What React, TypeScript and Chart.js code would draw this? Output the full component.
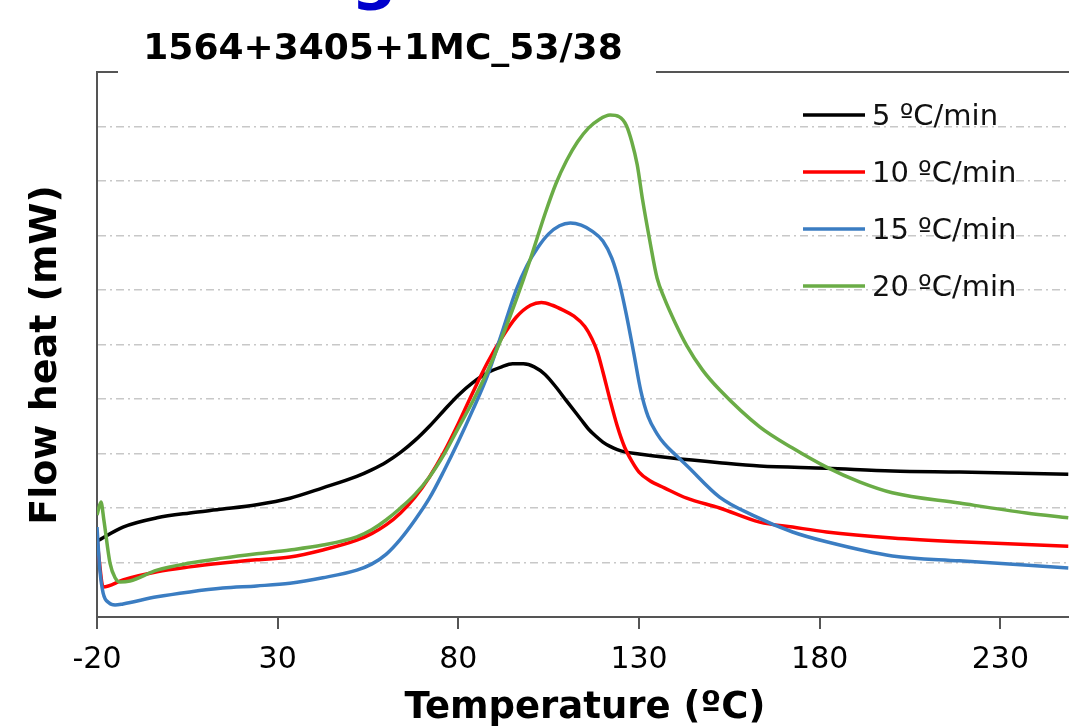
import React, { useEffect, useRef } from 'react';
import { Chart, registerables } from 'chart.js';

Chart.register(...registerables);

const chartTitle = '1564+3405+1MC_53/38';
const xAxisTitle = 'Temperature (ºC)';
const yAxisTitle = 'Flow heat (mW)';
const seriesLabels = ['5 ºC/min', '10 ºC/min', '15 ºC/min', '20 ºC/min'];
const seriesColors = ['#000000', '#ff0000', '#3b7dc2', '#6aac46'];
const xTickValues = [-20, 30, 80, 130, 180, 230];

// 5 ºC/min
const t5 = [-20, -12.8, -3.4, 5.7, 14.8, 24.2, 33.4, 42.5, 51.9, 56, 60, 64, 68, 72, 76, 80, 84, 88, 92, 95, 98, 101, 104, 107, 110, 114, 116, 118, 120, 122, 124, 126, 130, 138.5, 152.3, 163.4, 181.9, 200.1, 218.7, 248.8];
const v5 = [1.39, 1.65, 1.82, 1.91, 1.98, 2.06, 2.18, 2.37, 2.58, 2.70, 2.84, 3.02, 3.24, 3.50, 3.79, 4.07, 4.30, 4.48, 4.59, 4.645, 4.645, 4.59, 4.45, 4.22, 3.96, 3.62, 3.45, 3.32, 3.21, 3.13, 3.07, 3.03, 2.99, 2.92, 2.83, 2.77, 2.73, 2.68, 2.66, 2.62];

// 10 ºC/min
const t10 = [-20, -19.4, -18.3, -12.8, -3.4, 5.7, 14.8, 24.2, 33.4, 42.5, 51.9, 56, 60, 64, 68, 72, 76, 80, 84, 88, 92, 96, 100, 103, 106, 109, 112, 115, 117, 118.5, 120, 122, 124, 126, 128, 130, 133, 137, 143.2, 152.3, 163.4, 172.5, 181.9, 200.1, 218.7, 248.8];
const v10 = [1.47, 1.05, 0.55, 0.68, 0.83, 0.92, 0.99, 1.05, 1.10, 1.23, 1.41, 1.53, 1.69, 1.91, 2.20, 2.57, 3.02, 3.55, 4.12, 4.66, 5.12, 5.50, 5.72, 5.77, 5.72, 5.63, 5.52, 5.33, 5.10, 4.86, 4.50, 3.98, 3.50, 3.12, 2.86, 2.66, 2.50, 2.37, 2.18, 2.00, 1.74, 1.65, 1.56, 1.45, 1.38, 1.30];

// 15 ºC/min
const t15 = [-20, -19.2, -18.3, -16.7, -15.0, -12.8, -3.4, 5.7, 14.8, 24.2, 33.4, 42.5, 51.9, 56, 60, 64, 68, 72, 76, 80, 84, 88, 92, 96, 99, 102, 105, 108, 111, 114, 117, 120, 122.5, 124.5, 126.5, 128.5, 130.5, 132.5, 135, 137, 140, 143.2, 152.3, 161.4, 172.5, 181.9, 200.1, 218.7, 248.8];
const v15 = [1.65, 0.86, 0.44, 0.26, 0.22, 0.24, 0.37, 0.46, 0.53, 0.57, 0.62, 0.72, 0.86, 0.97, 1.15, 1.43, 1.78, 2.18, 2.68, 3.22, 3.80, 4.42, 5.20, 6.00, 6.45, 6.78, 7.03, 7.18, 7.23, 7.19, 7.08, 6.90, 6.58, 6.15, 5.55, 4.86, 4.15, 3.68, 3.36, 3.18, 2.98, 2.78, 2.20, 1.87, 1.56, 1.38, 1.12, 1.03, 0.90];

// 20 ºC/min
const t20 = [-20, -18.9, -18.1, -16.4, -15.0, -13.6, -10.9, -3.4, 5.7, 14.8, 24.2, 33.4, 42.5, 51.9, 56, 60, 64, 68, 72, 76, 80, 84, 88, 92, 96, 100, 104, 107, 110, 113, 116, 119, 122, 124.5, 126.5, 128, 129.5, 131, 133, 135, 137, 140, 143.2, 147.6, 152.3, 163.4, 172.5, 181.9, 191.0, 200.1, 218.7, 237.2, 248.8];
const v20 = [1.87, 2.11, 1.78, 0.99, 0.72, 0.64, 0.66, 0.86, 0.99, 1.08, 1.16, 1.23, 1.32, 1.47, 1.60, 1.78, 2.00, 2.25, 2.57, 2.98, 3.47, 3.96, 4.50, 5.12, 5.82, 6.58, 7.40, 7.95, 8.38, 8.72, 8.97, 9.13, 9.21, 9.18, 9.02, 8.72, 8.30, 7.65, 6.90, 6.22, 5.85, 5.40, 4.98, 4.53, 4.17, 3.49, 3.10, 2.75, 2.48, 2.28, 2.09, 1.91, 1.82];

const seriesT = [t5, t10, t15, t20];
const seriesV = [v5, v10, v15, v20];

const overlayPlugin = {
  id: 'overlay',
  afterDraw(chart: any) {
    const { ctx, chartArea } = chart;
    ctx.save();
    // top frame segments (broken by the title)
    ctx.strokeStyle = '#555555';
    ctx.lineWidth = 2;
    ctx.beginPath();
    ctx.moveTo(chartArea.left - 1, chartArea.top);
    ctx.lineTo(118, chartArea.top);
    ctx.moveTo(656, chartArea.top);
    ctx.lineTo(chartArea.right, chartArea.top);
    ctx.stroke();

    // cropped blue heading fragment
    ctx.fillStyle = '#0000cc';
    ctx.font = 'bold 64px "DejaVu Sans"';
    ctx.textAlign = 'left';
    ctx.textBaseline = 'alphabetic';
    ctx.fillText('g', 351, -3);

    // chart title
    ctx.fillStyle = '#000000';
    ctx.font = 'bold 36px "DejaVu Sans"';
    ctx.textAlign = 'center';
    ctx.fillText(chartTitle, 383, 59);

    // x axis title
    ctx.font = 'bold 37px "DejaVu Sans"';
    ctx.fillText(xAxisTitle, 585, 718);

    // y axis title
    ctx.save();
    ctx.translate(46, 355);
    ctx.rotate(-Math.PI / 2);
    ctx.font = 'bold 38px "DejaVu Sans"';
    ctx.textBaseline = 'middle';
    ctx.fillText(yAxisTitle, 0, 0);
    ctx.restore();

    // legend
    chart.data.datasets.forEach((ds: any, i: number) => {
      const y = 115 + i * 57;
      ctx.strokeStyle = ds.borderColor;
      ctx.lineWidth = 3.5;
      ctx.beginPath();
      ctx.moveTo(803, y);
      ctx.lineTo(865, y);
      ctx.stroke();
      ctx.fillStyle = '#111111';
      ctx.font = '29px "DejaVu Sans"';
      ctx.textAlign = 'left';
      ctx.textBaseline = 'alphabetic';
      ctx.fillText(ds.label, 872, y + 10);
    });
    ctx.restore();
  },
};

export default function App() {
  const canvasRef = useRef<HTMLCanvasElement | null>(null);

  useEffect(() => {
    document.body.style.margin = '0';
    const canvas = canvasRef.current;
    if (!canvas) return;
    const datasets = seriesLabels.map((label, i) => ({
      label,
      data: seriesT[i].map((x, j) => ({ x, y: seriesV[i][j] })),
      borderColor: seriesColors[i],
      backgroundColor: seriesColors[i],
      borderWidth: 3.5,
      pointRadius: 0,
      fill: false,
      cubicInterpolationMode: 'monotone' as const,
      order: 3 - i,
    }));
    const chart = new Chart(canvas, {
      type: 'line',
      data: { datasets },
      options: {
        animation: false,
        responsive: false,
        devicePixelRatio: 1,
        layout: { padding: { top: 72, left: 0, right: 0, bottom: 0 } },
        plugins: {
          legend: { display: false },
          title: { display: false },
          tooltip: { enabled: false },
        },
        scales: {
          x: {
            type: 'linear',
            min: -20,
            max: 249,
            afterBuildTicks: (s: any) => {
              s.ticks = xTickValues.map((v) => ({ value: v }));
            },
            afterFit: (s: any) => {
              s.height = 109;
            },
            grid: {
              display: true,
              drawOnChartArea: false,
              drawTicks: true,
              tickLength: 12,
              color: '#555555',
              lineWidth: 2,
            },
            border: { display: true, color: '#555555', width: 2 },
            ticks: {
              color: '#000000',
              padding: 13,
              maxRotation: 0,
              autoSkip: false,
              font: { family: '"DejaVu Sans"', size: 30 },
            },
          },
          y: {
            type: 'linear',
            min: 0,
            max: 10,
            afterFit: (s: any) => {
              s.width = 97;
            },
            ticks: { display: false, stepSize: 1 },
            grid: {
              drawTicks: false,
              color: (c: any) =>
                c.tick && (c.tick.value === 0 || c.tick.value === 10) ? 'rgba(0,0,0,0)' : '#c8c8c8',
              lineWidth: 1.5,
            },
            border: { display: true, color: '#555555', width: 2, dash: [8, 4, 2, 4] },
          },
        },
      },
      plugins: [overlayPlugin],
    });
    return () => chart.destroy();
  }, []);

  return (
    <div style={{ position: 'absolute', left: 0, top: 0, width: 1069, height: 726, background: '#ffffff' }}>
      <canvas ref={canvasRef} width={1069} height={726} />
    </div>
  );
}
